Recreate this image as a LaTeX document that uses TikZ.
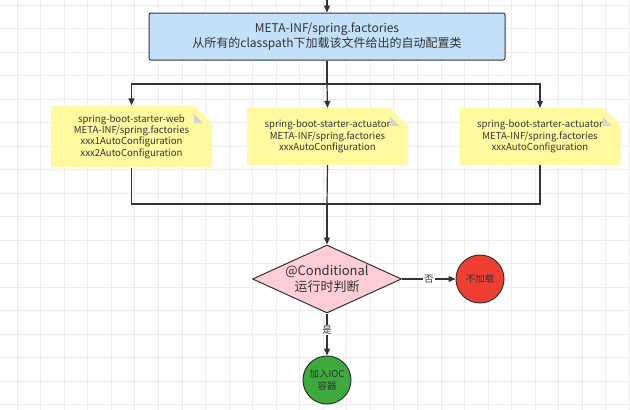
\documentclass[tikz,border=0pt]{standalone}
\usepackage{fontspec}
\setmainfont{Noto Sans CJK SC}
\usetikzlibrary{shapes.geometric,shapes.misc,arrows.meta}
\definecolor{gridc}{HTML}{EDEDED}
\definecolor{ink}{HTML}{333333}
\definecolor{bluef}{HTML}{C2E0FA}
\definecolor{notef}{HTML}{FFFAA0}
\definecolor{foldc}{HTML}{D4D4D4}
\definecolor{pinkf}{HTML}{FFCDD6}
\definecolor{redf}{HTML}{F03E32}
\definecolor{greenf}{HTML}{3DAA3D}
\tikzset{
  x=1pt, y=-1pt,
  conn/.style={draw=ink, line width=1.2pt},
  arr/.style={conn, -{Triangle[length=7pt,width=6pt]}},
  bluebox/.style={draw=ink, line width=1pt, fill=bluef, rounded corners=2pt,
    minimum width=356pt, minimum height=47pt, inner sep=0pt, align=center,
    text=ink, font=\fontsize{12}{15}\selectfont},
  notebox/.style={chamfered rectangle, chamfered rectangle corners=north east,
    chamfered rectangle xsep=9pt, chamfered rectangle ysep=9pt,
    fill=notef, draw=none, minimum width=161pt, minimum height=57pt,
    inner sep=0pt, align=center, text=ink, font=\fontsize{9.6}{11.3}\selectfont},
  decision/.style={diamond, draw=ink, line width=1pt, fill=pinkf, aspect=2.2,
    minimum width=149pt, minimum height=68pt, inner sep=0pt, align=center,
    text=ink, font=\fontsize{13}{16}\selectfont},
  endpt/.style={circle, draw=ink, line width=1pt, minimum size=48pt, inner sep=0pt,
    align=center, text=ink, font=\fontsize{9.5}{12}\selectfont},
  lbl/.style={fill=white, inner sep=1pt, text=ink, font=\fontsize{9.5}{10}\selectfont},
}
\begin{document}
\begin{tikzpicture}
\useasboundingbox (0,0) rectangle (630,410);
\fill[white] (0,0) rectangle (630,410);
% grid
\foreach \i in {0,...,27} \draw[gridc, line width=0.6pt] ({-6.6+23.55*\i},0) -- ({-6.6+23.55*\i},410);
\foreach \j in {0,...,17} \draw[gridc, line width=0.6pt] (0,{4.8+23.5*\j}) -- (630,{4.8+23.5*\j});

\node[bluebox] (box) at (327,36.5) {META-INF/spring.factories\\从所有的classpath下加载该文件给出的自动配置类};
\coordinate (top) at (327,0);
\draw[arr] (top) -- (box.north);

\node[notebox] (n1) at (131.5,136.5) {spring-boot-starter-web\\META-INF/spring.factories\\xxx1AutoConfiguration\\xxx2AutoConfiguration};
\node[notebox] (n2) at (327.5,136.5) {spring-boot-starter-actuator\\META-INF/spring.factories\\xxxAutoConfiguration};
\node[notebox] (n3) at (540,136.5) {spring-boot-starter-actuator\\META-INF/spring.factories\\xxxAutoConfiguration};
\foreach \n in {n1,n2,n3}
  \fill[foldc] ([xshift=-9pt]\n.north east) -- ([yshift=-9pt]\n.north east) -- ([xshift=-9pt,yshift=-9pt]\n.north east) -- cycle;

\coordinate (split) at (327,84);
\draw[conn] (box.south) -- (split);
\draw[arr] (split) -| (n1.north);
\draw[arr] (split) -- (n2.north);
\draw[arr] (split) -| (n3.north);

\node[decision] (dia) at (327,279) {@Conditional\\运行时判断};
\coordinate (join) at (327,204);
\draw[conn] (n1.south) |- (join);
\draw[conn] (n3.south) |- (join);
\draw[conn] (n2.south) -- (join);
\draw[arr] (join) -- (dia.north);

\node[endpt, fill=redf] (no) at (480,279) {不加载};
\node[endpt, fill=greenf] (yes) at (327,380) {加入IOC\\容器};
\draw[arr] (dia.east) -- node[lbl] {否} (no.west);
\draw[arr] (dia.south) -- node[lbl, pos=0.4] {是} (yes.north);
\end{tikzpicture}
\end{document}
